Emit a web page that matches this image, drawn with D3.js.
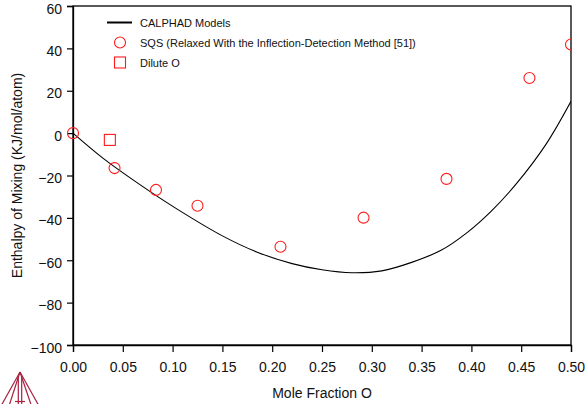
<!DOCTYPE html>
<meta charset="utf-8">
<script src="https://d3js.org/d3.v7.min.js"></script>
<style>
  body { margin: 0; background: #fff; }
  svg text { font-family: "Liberation Sans", Arial, sans-serif; fill: #111; }
</style>
<body>
<div id="chart"></div>
<script>
  // CALPHAD curve
  var curveX = [0, 0.03, 0.065, 0.105, 0.15, 0.185, 0.22, 0.25, 0.28, 0.31, 0.34, 0.37,
                0.395, 0.42, 0.445, 0.475, 0.5];
  var curveY = [0, -11.8, -23.6, -36.0, -48.5, -56.2, -61.6, -64.5, -65.9, -65.0, -61.0, -55.2,
                -47.2, -36.8, -24.0, -5.2, 15.0];

  // SQS points
  var sqsX = [0, 0.0417, 0.0833, 0.125, 0.2083, 0.2917, 0.375, 0.4583, 0.5];
  var sqsY = [0, -16.5, -26.8, -34.3, -53.6, -39.9, -21.6, 26.0, 41.8];

  // dilute O
  var diluteX = [0.037];
  var diluteY = [-3.2];

  var xTicks = [0, 0.05, 0.1, 0.15, 0.2, 0.25, 0.3, 0.35, 0.4, 0.45, 0.5];
  var yTicks = [60, 40, 20, 0, -20, -40, -60, -80, -100];

  var legendLabels = ["CALPHAD Models", "SQS (Relaxed With the Inflection-Detection Method [51])", "Dilute O"];

  var width = 586, height = 404;
  var margin = {left: 73, right: 15, top: 6, bottom: 59};

  var svg = d3.select("#chart").append("svg")
      .attr("width", width)
      .attr("height", height);

  var x = d3.scaleLinear().domain([0, 0.5]).range([margin.left, width - margin.right]);
  var y = d3.scaleLinear().domain([-100, 60]).range([height - margin.bottom, margin.top]);

  var plot = svg.append("g");

  // clip so that the edge markers get cut at the frame like in the original
  svg.append("clipPath").attr("id", "clip")
    .append("rect")
      .attr("x", x(0) - 8).attr("y", y(60))
      .attr("width", x(0.5) - x(0) + 8).attr("height", y(-100) - y(60));

  // frame
  plot.append("rect")
      .attr("x", x(0)).attr("y", y(60))
      .attr("width", x(0.5) - x(0)).attr("height", y(-100) - y(60))
      .attr("fill", "none").attr("stroke", "#000").attr("stroke-width", 1.3);

  // axes
  var xAxis = svg.append("g")
      .attr("transform", "translate(0," + y(-100) + ")")
      .call(d3.axisBottom(x).tickValues(xTicks).tickSize(7).tickPadding(10).tickFormat(d3.format(".2f")));
  var yAxis = svg.append("g")
      .attr("transform", "translate(" + x(0) + ",0)")
      .call(d3.axisLeft(y).tickValues(yTicks).tickSize(6).tickPadding(5).tickFormat(d3.format("d")));

  [xAxis, yAxis].forEach(function (g) {
    g.select(".domain").attr("stroke-width", 1.3);
    g.selectAll(".tick line").attr("stroke-width", 1.2);
    g.selectAll("text").style("font-size", "14px")
      .style("font-family", "'Liberation Sans', Arial, sans-serif").attr("fill", "#111");
  });
  yAxis.selectAll("text").attr("dy", "0.5em");

  // axis titles
  svg.append("text")
      .attr("x", (x(0) + x(0.5)) / 2).attr("y", 398)
      .attr("text-anchor", "middle").style("font-size", "14px")
      .text("Mole Fraction O");
  svg.append("text")
      .attr("transform", "translate(22," + (y(60) + y(-100)) / 2 + ") rotate(-90)")
      .attr("text-anchor", "middle").style("font-size", "14px")
      .text("Enthalpy of Mixing (KJ/mol/atom)");

  var inner = svg.append("g").attr("clip-path", "url(#clip)");

  // CALPHAD line
  var line = d3.line()
      .x(function (d, i) { return x(curveX[i]); })
      .y(function (d, i) { return y(curveY[i]); })
      .curve(d3.curveCatmullRom);
  inner.append("path")
      .datum(curveX)
      .attr("d", line)
      .attr("fill", "none").attr("stroke", "#000").attr("stroke-width", 1.1);

  // SQS circles
  inner.selectAll("circle.sqs")
      .data(sqsX)
      .join("circle")
      .attr("class", "sqs")
      .attr("cx", function (d) { return x(d); })
      .attr("cy", function (d, i) { return y(sqsY[i]); })
      .attr("r", 5.5)
      .attr("fill", "none").attr("stroke", "#ff1a1a").attr("stroke-width", 1.1);

  // dilute squares
  inner.selectAll("rect.dil")
      .data(diluteX)
      .join("rect")
      .attr("class", "dil")
      .attr("x", function (d) { return x(d) - 5.5; })
      .attr("y", function (d, i) { return y(diluteY[i]) - 5.5; })
      .attr("width", 11).attr("height", 11)
      .attr("fill", "none").attr("stroke", "#ff1a1a").attr("stroke-width", 1.1);

  // legend
  var leg = svg.append("g");
  var rowY = [22.5, 42.5, 62.5];
  leg.append("line")
      .attr("x1", 107).attr("x2", 132).attr("y1", rowY[0]).attr("y2", rowY[0])
      .attr("stroke", "#000").attr("stroke-width", 2);
  leg.append("circle")
      .attr("cx", 120).attr("cy", rowY[1]).attr("r", 5.5)
      .attr("fill", "none").attr("stroke", "#ff1a1a").attr("stroke-width", 1.1);
  leg.append("rect")
      .attr("x", 114.5).attr("y", rowY[2] - 5.5).attr("width", 11).attr("height", 11)
      .attr("fill", "none").attr("stroke", "#ff1a1a").attr("stroke-width", 1.1);
  leg.selectAll("text")
      .data(legendLabels)
      .join("text")
      .attr("x", 140)
      .attr("y", function (d, i) { return rowY[i] + 4; })
      .style("font-size", "11px")
      .text(function (d) { return d; });

  // Thermo-Calc style logo in the corner
  var logo = svg.append("g")
      .attr("fill", "none").attr("stroke", "#a8203f").attr("stroke-width", 1.2);
  var ax = 20, ay = 372, by = 406;
  [[1, by], [9, by], [31.5, by], [39, by]].forEach(function (p) {
    logo.append("line").attr("x1", ax).attr("y1", ay).attr("x2", p[0]).attr("y2", p[1]);
  });
  logo.append("line").attr("x1", 18.3).attr("y1", 377).attr("x2", 18.3).attr("y2", by);
  logo.append("line").attr("x1", 21.7).attr("y1", 377).attr("x2", 21.7).attr("y2", by);
  logo.append("line").attr("x1", 15).attr("y1", 401.5).attr("x2", 25).attr("y2", 401.5);
</script>
</body>
